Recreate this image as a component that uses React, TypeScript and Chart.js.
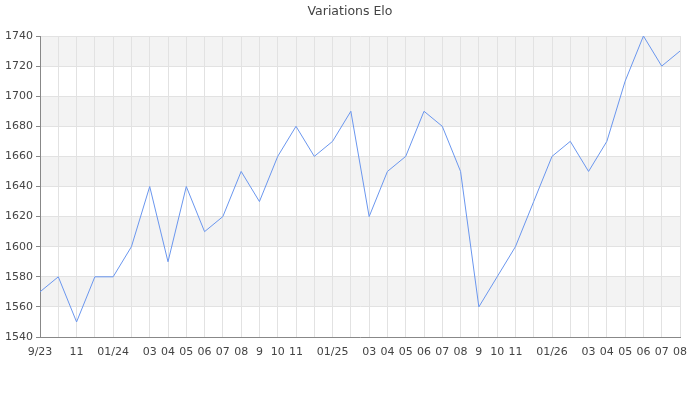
import React, { useEffect, useRef } from "react";
import { Chart, registerables, Plugin } from "chart.js";

Chart.register(...registerables);

const chartTitle = "Variations Elo";

// tick labels as shown on the x axis ("" where the label is hidden)
const monthLabels = [
  "9/23", "", "11", "", "01/24", "", "03", "04", "05", "06", "07", "08",
  "9", "10", "11", "", "01/25", "", "03", "04", "05", "06", "07", "08",
  "9", "10", "11", "", "01/26", "", "03", "04", "05", "06", "07", "08",
];

const eloValues = [
  1570, 1580, 1550, 1580, 1580, 1600, 1640, 1590, 1640, 1610, 1620, 1650,
  1630, 1660, 1680, 1660, 1670, 1690, 1620, 1650, 1660, 1690, 1680, 1650,
  1560, 1580, 1600, 1630, 1660, 1670, 1650, 1670, 1710, 1740, 1720, 1730,
];

const yMin = 1540;
const yMax = 1740;
const bandStep = 20;

// alternating grey bands behind the grid
const bandsPlugin: Plugin<"line"> = {
  id: "bands",
  beforeDraw: chart => {
    const { ctx, chartArea, scales } = chart;
    const y = scales.y;
    ctx.save();
    ctx.fillStyle = "#f3f3f3";
    for (let v = yMin; v < yMax; v += bandStep) {
      if (((v - yMin) / bandStep) % 2 === 1) {
        const top = y.getPixelForValue(v + bandStep);
        const bottom = y.getPixelForValue(v);
        ctx.fillRect(chartArea.left, top, chartArea.right - chartArea.left, bottom - top);
      }
    }
    ctx.restore();
  },
};

// title centred on the whole canvas, not on the padded layout box
const titlePlugin: Plugin<"line"> = {
  id: "centredTitle",
  afterDraw: chart => {
    const { ctx, width } = chart;
    ctx.save();
    ctx.font = "12.5px 'DejaVu Sans', sans-serif";
    ctx.fillStyle = "#444";
    ctx.textAlign = "center";
    ctx.textBaseline = "middle";
    ctx.fillText(chartTitle, width / 2, 12);
    ctx.restore();
  },
};

const EloChart: React.FC = () => {
  const canvas = useRef<HTMLCanvasElement>(null);

  useEffect(() => {
    Chart.defaults.font.family = "'DejaVu Sans', sans-serif";
    Chart.defaults.color = "#444";

    const chart = new Chart(canvas.current!.getContext("2d")!, {
      type: "line",
      data: {
        labels: monthLabels,
        datasets: [
          {
            data: eloValues,
            borderColor: "#6a96ee",
            borderWidth: 1,
            pointRadius: 0,
            fill: false,
            tension: 0,
          },
        ],
      },
      options: {
        responsive: false,
        animation: false,
        layout: { padding: { left: 0, right: 20, top: 36, bottom: 0 } },
        plugins: {
          legend: { display: false },
          tooltip: { enabled: false },
          title: { display: false },
        },
        scales: {
          x: {
            offset: false,
            grid: {
              color: "#e2e2e2",
              tickLength: 0,
            },
            border: { color: "#888" },
            ticks: {
              autoSkip: false,
              maxRotation: 0,
              padding: 9,
              font: { size: 11 },
            },
            afterFit: scale => {
              scale.height = 63;
            },
          },
          y: {
            min: yMin,
            max: yMax,
            grid: {
              color: ctx => (ctx.tick && ctx.tick.value % 20 === 0 ? "#e2e2e2" : "rgba(0,0,0,0)"),
              tickColor: "#888",
              tickLength: 4,
            },
            border: { color: "#888" },
            ticks: {
              stepSize: 10,
              padding: 3,
              font: { size: 11 },
              callback: value => (Number(value) % 20 === 0 ? String(value) : ""),
            },
            afterFit: scale => {
              scale.width = 40;
            },
          },
        },
      },
      plugins: [bandsPlugin, titlePlugin],
    });

    return () => {
      chart.destroy();
    };
  }, []);

  return (
    <div style={{ position: "absolute", left: 0, top: 0, width: 700, height: 400, background: "#fff" }}>
      <canvas ref={canvas} width={700} height={400}></canvas>
    </div>
  );
};

export default function App() {
  return <EloChart />;
}
